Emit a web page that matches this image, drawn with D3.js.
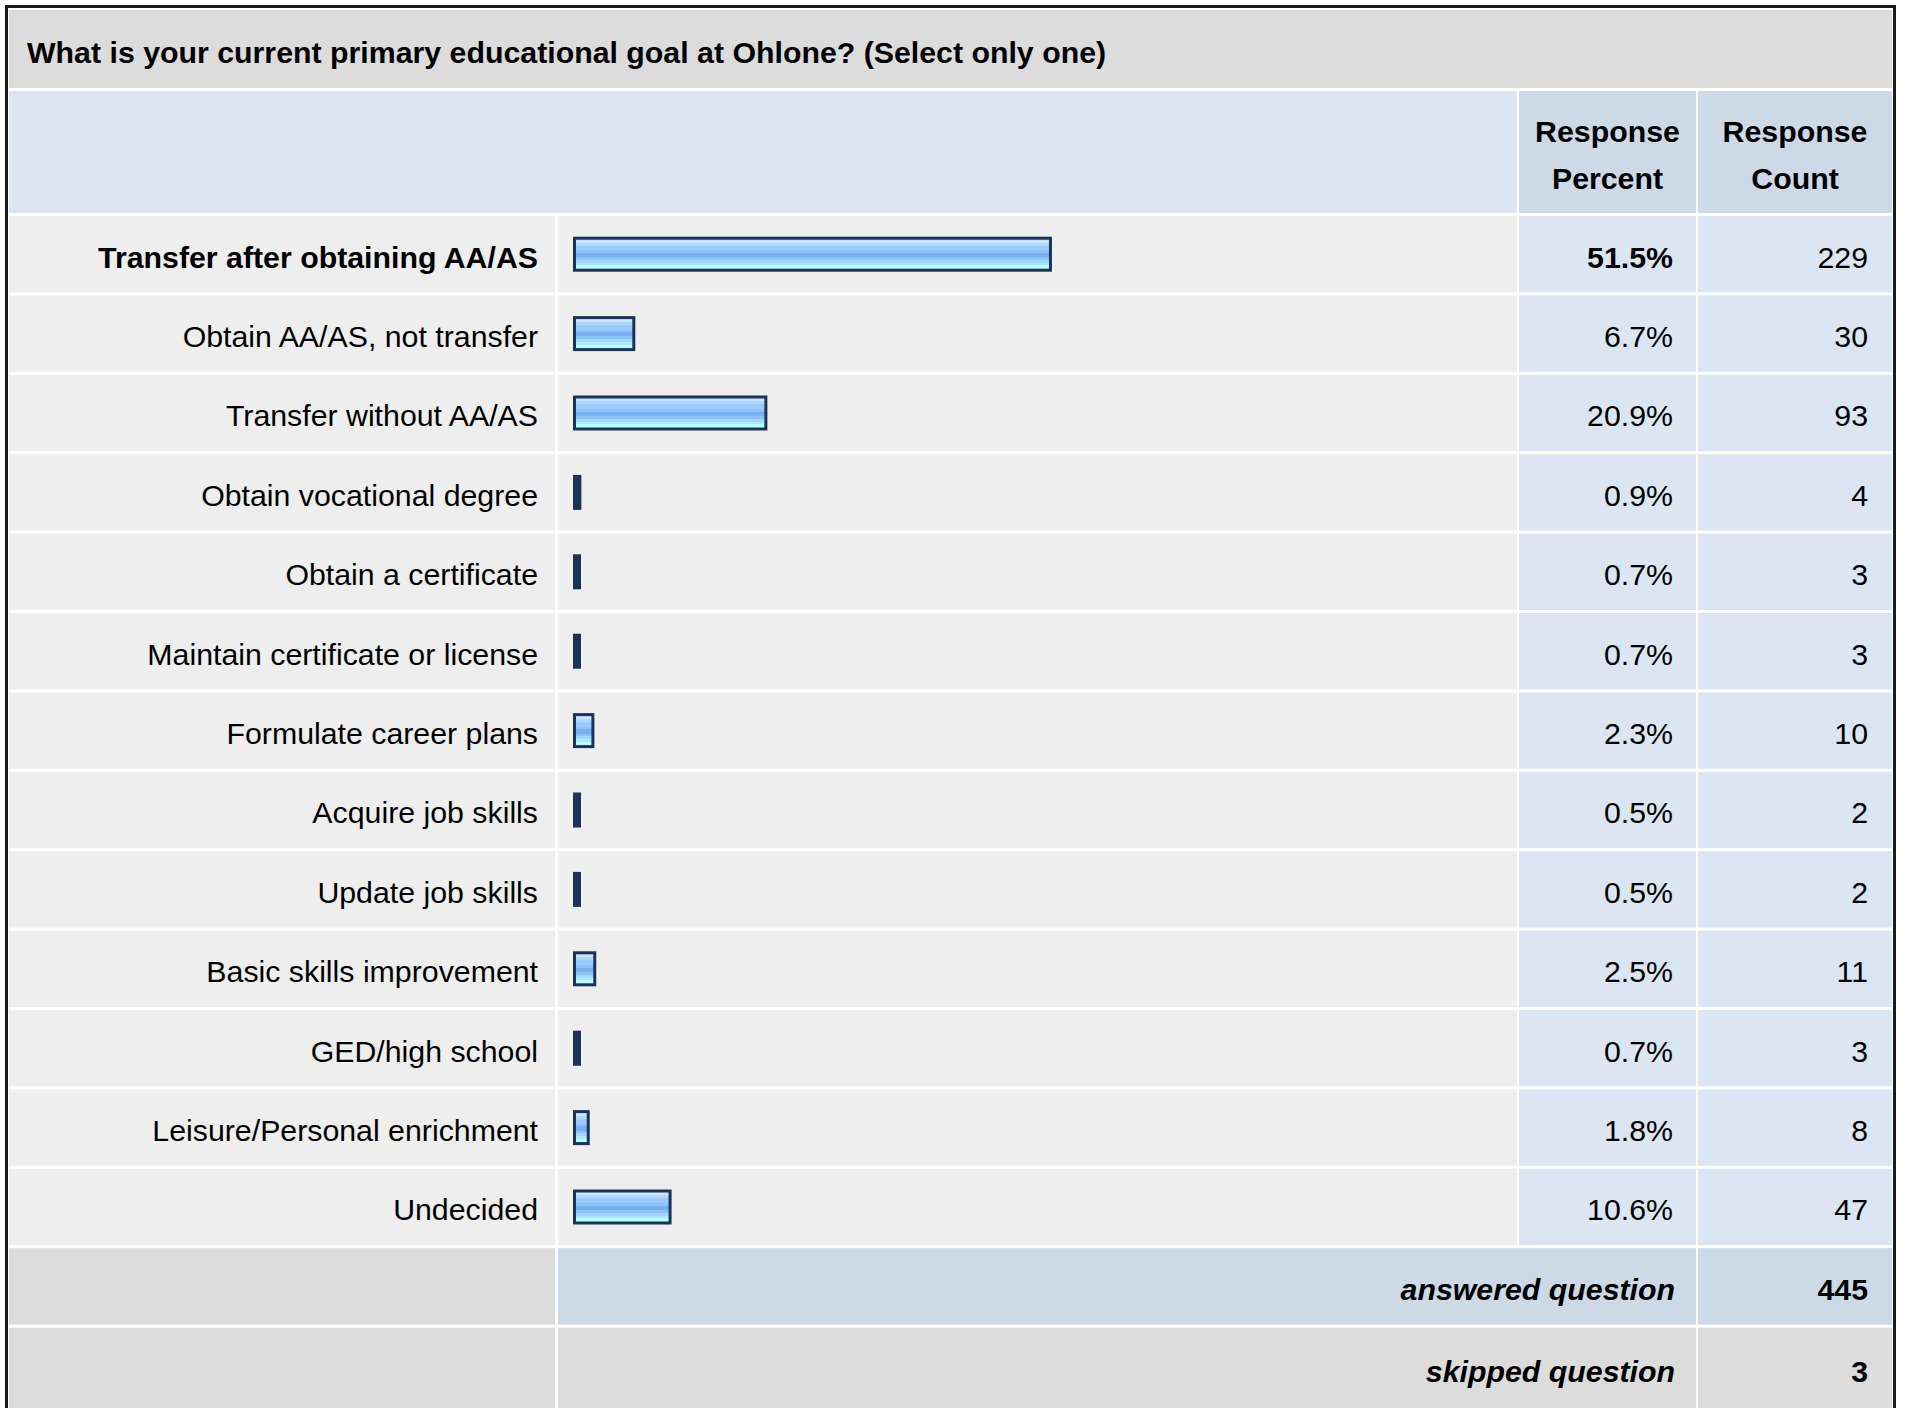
<html>
<head>
<script src="https://d3js.org/d3.v7.min.js"></script>
<style>
  body { margin: 0; background: #ffffff; }
  text { font-family: "Liberation Sans", Arial, Helvetica, sans-serif; fill: #000; }
</style>
</head>
<body>
<svg id="chart" width="1907" height="1408"></svg>
<script>
// survey data
var question = "What is your current primary educational goal at Ohlone? (Select only one)";
var answers = ["Transfer after obtaining AA/AS", "Obtain AA/AS, not transfer", "Transfer without AA/AS",
  "Obtain vocational degree", "Obtain a certificate", "Maintain certificate or license",
  "Formulate career plans", "Acquire job skills", "Update job skills", "Basic skills improvement",
  "GED/high school", "Leisure/Personal enrichment", "Undecided"];
var percents = [51.5, 6.7, 20.9, 0.9, 0.7, 0.7, 2.3, 0.5, 0.5, 2.5, 0.7, 1.8, 10.6];
var counts = [229, 30, 93, 4, 3, 3, 10, 2, 2, 11, 3, 8, 47];
var headers = [["Response", "Percent"], ["Response", "Count"]];
var summaryLabels = ["answered question", "skipped question"];
var summaryValues = [445, 3];

var svg = d3.select("#chart");

// column edges
var colLabel = [9, 555], colBar = [558, 1517], colPct = [1519, 1696], colCnt = [1698, 1892];
var gap = 3;
var fs = "30.3px";

// rows: 13 answers + 2 summary rows share one band scale
var rowKeys = answers.concat(summaryLabels);
var y = d3.scaleBand().domain(rowKeys).range([216, 216 + rowKeys.length * 79.4]);
var x = d3.scaleLinear().domain([0, 100]).range([0, 930]);

var maxPct = d3.max(percents);

// gradient for the bars
var defs = svg.append("defs");
var grad = defs.append("linearGradient").attr("id", "barfill")
  .attr("x1", 0).attr("y1", 0).attr("x2", 0).attr("y2", 1);
var bands = [[0, "#c8e4ff"], [0.1, "#b0d8ff"], [0.2, "#9acbfd"], [0.36, "#8cc2f8"], [0.46, "#76b0ee"],
  [0.6, "#8ac4f6"], [0.7, "#a0d6ff"], [0.8, "#aee6ff"], [0.88, "#b4ffff"], [1, "#b4ffff"]];
bands.forEach(function(b, i) {
  grad.append("stop").attr("offset", b[0]).attr("stop-color", b[1]);
  if (i < bands.length - 1) grad.append("stop").attr("offset", bands[i + 1][0]).attr("stop-color", b[1]);
});

// title row
svg.append("rect").attr("x", 9).attr("y", 10).attr("width", 1883).attr("height", 78).style("fill", "#dcdcdc");
svg.append("text").attr("x", 27).attr("y", 63)
  .style("font-size", fs).style("font-weight", "bold").text(question);

// header row
svg.append("rect").attr("x", colLabel[0]).attr("y", 91).attr("width", colBar[1] - colLabel[0]).attr("height", 122).style("fill", "#dce6f3");
[colPct, colCnt].forEach(function(c, i) {
  svg.append("rect").attr("x", c[0]).attr("y", 91).attr("width", c[1] - c[0]).attr("height", 122).style("fill", "#cdd9e6");
  headers[i].forEach(function(h, j) {
    svg.append("text").attr("x", (c[0] + c[1]) / 2).attr("y", 142 + j * 47)
      .attr("text-anchor", "middle").style("font-size", fs).style("font-weight", "bold").text(h);
  });
});

// answer rows
var rows = svg.append("g").selectAll("g").data(answers).enter().append("g")
  .attr("transform", function(d) { return "translate(0," + y(d) + ")"; });
var h = y.bandwidth() - gap;
var base = h / 2 + 13.5;

rows.append("rect").attr("x", colLabel[0]).attr("width", colLabel[1] - colLabel[0]).attr("height", h).style("fill", "#eeeeee");
rows.append("rect").attr("x", colBar[0]).attr("width", colBar[1] - colBar[0]).attr("height", h).style("fill", "#eeeeee");
rows.append("rect").attr("x", colPct[0]).attr("width", colPct[1] - colPct[0]).attr("height", h).style("fill", "#dce6f3");
rows.append("rect").attr("x", colCnt[0]).attr("width", colCnt[1] - colCnt[0]).attr("height", h).style("fill", "#dce6f3");

rows.append("text").attr("x", 538).attr("y", base).attr("text-anchor", "end")
  .style("font-size", fs)
  .style("font-weight", function(d, i) { return percents[i] == maxPct ? "bold" : "normal"; })
  .text(function(d) { return d; });

// bars
var barH = 35, bx = 573;
rows.append("rect").attr("x", bx).attr("y", h / 2 - barH / 2)
  .attr("width", function(d, i) { return Math.max(x(percents[i]), 8); })
  .attr("height", barH).style("fill", "#1b3358");
rows.append("rect").attr("x", bx + 3).attr("y", h / 2 - barH / 2 + 3)
  .attr("width", function(d, i) { var w = x(percents[i]) - 6; return w > 4 ? w : 0; })
  .attr("height", barH - 6).style("fill", "url(#barfill)");

rows.append("text").attr("x", 1673).attr("y", base).attr("text-anchor", "end")
  .style("font-size", fs)
  .style("font-weight", function(d, i) { return percents[i] == maxPct ? "bold" : "normal"; })
  .text(function(d, i) { return percents[i].toFixed(1) + "%"; });
rows.append("text").attr("x", 1868).attr("y", base).attr("text-anchor", "end")
  .style("font-size", fs)
  .text(function(d, i) { return counts[i]; });

// summary rows
var sum = svg.append("g").selectAll("g").data(summaryLabels).enter().append("g")
  .attr("transform", function(d) { return "translate(0," + y(d) + ")"; });
var sh = function(d, i) { return i == 0 ? h : h + 20; };
var sfill = function(d, i) { return i == 0 ? "#cdd9e6" : "#dcdcdc"; };
sum.append("rect").attr("x", colLabel[0]).attr("width", colLabel[1] - colLabel[0]).attr("height", sh).style("fill", "#dcdcdc");
sum.append("rect").attr("x", colBar[0]).attr("width", colPct[1] - colBar[0]).attr("height", sh).style("fill", sfill);
sum.append("rect").attr("x", colCnt[0]).attr("width", colCnt[1] - colCnt[0]).attr("height", sh).style("fill", sfill);
sum.append("text").attr("x", 1675).attr("y", function(d, i) { return base + i * 3; }).attr("text-anchor", "end")
  .style("font-size", fs).style("font-weight", "bold").style("font-style", "italic")
  .text(function(d) { return d; });
sum.append("text").attr("x", 1868).attr("y", function(d, i) { return base + i * 3; }).attr("text-anchor", "end")
  .style("font-size", fs).style("font-weight", "bold")
  .text(function(d, i) { return summaryValues[i]; });

// outer frame
svg.append("rect").attr("x", 6.5).attr("y", 6.5).attr("width", 1888).attr("height", 1420)
  .style("fill", "none").style("stroke", "#1a1a1a").style("stroke-width", 3);
</script>
</body>
</html>
